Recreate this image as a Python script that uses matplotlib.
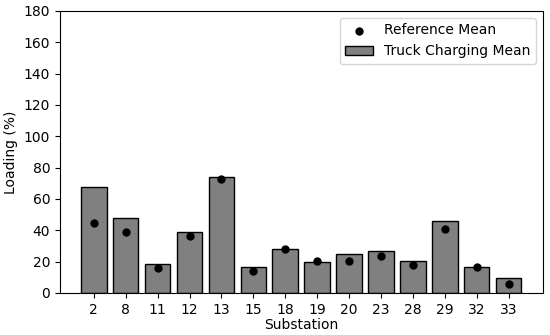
import matplotlib.pyplot as plt
import numpy as np

substations = ['2', '8', '11', '12', '13', '15', '18', '19', '20', '23', '28', '29', '32', '33']
truck_mean = [67.7, 48.0, 18.5, 38.7, 73.8, 16.4, 28.2, 19.5, 25.0, 27.0, 20.2, 46.0, 16.6, 9.3]
ref_mean = [44.8, 38.7, 15.9, 36.1, 72.8, 14.3, 28.2, 20.2, 20.4, 23.4, 17.8, 40.6, 16.6, 5.5]

x = np.arange(len(substations))

fig = plt.figure(figsize=(5.5, 3.35), dpi=100)
ax = fig.add_axes([60 / 550, 1 - 293 / 335, 483 / 550, 282 / 335])

ax.bar(x, truck_mean, width=0.8, color='gray', edgecolor='black', label='Truck Charging Mean')
ax.scatter(x, ref_mean, color='black', s=25, zorder=3, label='Reference Mean')

ax.set_xticks(x)
ax.set_xticklabels(substations)
ax.set_xlim(-1.06, len(substations) + 0.08)
ax.set_ylim(0, 180)
ax.set_yticks(range(0, 181, 20))
ax.set_xlabel('Substation', fontsize=10, labelpad=1)
ax.set_ylabel('Loading (%)', fontsize=10)
ax.tick_params(labelsize=10)
ax.legend(loc='upper right', fontsize=10)

fig.savefig('out.png', dpi=100)
